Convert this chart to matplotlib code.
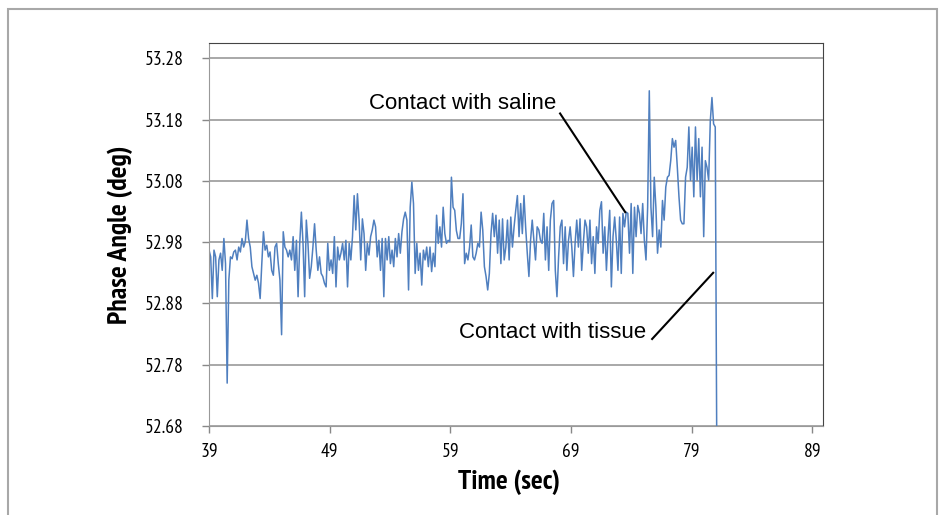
import numpy as np
import matplotlib
matplotlib.use("Agg")
import matplotlib.pyplot as plt
from matplotlib.patches import Rectangle

# phase angle samples (deg), left to right
seg1 = [52.967, 52.956, 52.888, 52.967, 52.956, 52.891, 52.951, 52.962, 52.934, 52.986,
        52.945, 52.750, 52.918, 52.956, 52.953, 52.964, 52.967, 52.951, 52.972, 52.964,
        52.986, 52.972, 52.981, 53.016, 52.986, 52.972, 52.940, 52.929, 52.918, 52.926,
        52.913, 52.888, 52.945, 52.997, 52.967, 52.975, 52.956, 52.964, 52.934, 52.926,
        52.972, 52.978, 52.945, 52.918, 52.829, 52.997, 52.972, 52.967, 52.956]
seg2 = [52.967, 52.951, 52.989, 52.934, 52.983, 52.891, 52.978, 53.029, 52.978, 52.891,
        53.016, 52.978, 52.921, 52.940, 52.972, 53.010, 52.967, 52.934, 52.956, 52.929,
        52.924, 52.913, 52.907, 52.978, 52.934, 52.951, 52.929, 52.989, 52.907, 52.972,
        52.951, 52.962, 52.978, 52.951, 52.983, 52.907, 52.978, 52.951, 52.989, 53.056,
        53.000, 53.059, 53.016, 52.951, 53.018, 52.994, 52.934, 52.978, 52.959, 52.989,
        53.000, 53.016]
seg3 = [53.005, 52.956, 52.983, 52.934, 52.986, 52.891, 52.986, 52.951, 52.989, 52.945,
        52.967, 52.940, 52.986, 52.956, 52.994, 52.962, 52.997, 53.018, 53.029, 53.016,
        52.902, 53.037, 53.078, 53.043, 52.929, 52.978, 52.934, 52.962, 52.910, 52.967,
        52.951, 52.972, 52.940, 52.972, 52.932, 52.962, 52.940, 53.024, 52.978, 53.005,
        52.972, 53.037, 52.994, 52.978, 52.983, 52.981, 53.086, 53.037, 53.032, 52.999,
        52.986]
seg4 = [52.986, 53.010, 53.059, 52.945, 52.962, 52.951, 52.972, 53.008, 52.956, 52.951,
        52.962, 52.978, 52.972, 53.029, 53.000, 52.940, 52.924, 52.902, 52.929, 52.994,
        53.027, 52.989, 53.024, 52.962, 53.016, 52.945, 53.018, 52.951, 52.972, 53.016,
        52.951, 53.021, 52.972, 53.005, 53.032, 53.056, 52.989, 53.043, 52.994, 53.056,
        53.005, 52.962, 52.924, 52.983, 53.016, 52.983, 52.951, 53.005, 53.000, 52.983,
        52.978]
seg5 = [53.027, 52.951, 53.005, 52.934, 53.016, 53.043, 53.048, 52.934, 52.891, 52.956,
        53.005, 53.016, 52.945, 53.005, 52.934, 52.983, 53.005, 52.972, 52.924, 52.978,
        53.016, 52.972, 53.018, 52.934, 52.978, 53.016, 53.005, 52.962, 53.016, 52.945,
        52.989, 52.929, 53.005, 52.978, 53.032, 53.046, 52.962, 53.005, 52.934, 52.989,
        53.032, 52.907, 52.989, 53.021, 52.983, 52.934, 53.021, 52.929, 53.027, 53.005,
        53.029]
seg6 = [53.027, 52.962, 53.043, 52.929, 53.037, 52.989, 53.040, 53.027, 52.994, 53.043,
        52.983, 52.951, 53.037, 53.227, 53.037, 52.989, 53.086, 53.037, 52.962, 53.000,
        52.972, 53.048, 53.016, 53.070, 53.086, 53.089, 53.113, 53.149, 53.135, 53.146,
        53.102, 53.054, 53.016, 53.010, 53.010, 53.086, 53.102, 53.168, 53.081, 53.135,
        53.054, 53.168, 53.081, 53.149, 53.054, 53.135, 52.989, 53.113, 53.102, 53.081,
        53.178, 53.216, 53.173, 53.168, 52.600]

phase = np.array(seg1 + seg2 + seg3 + seg4 + seg5 + seg6)
t_start, t_end = 39.0, 81.1
time = np.linspace(t_start, t_end, len(phase))

x_ticks = [39, 49, 59, 69, 79, 89]
y_ticks = [52.68, 52.78, 52.88, 52.98, 53.08, 53.18, 53.28]

tick_font = ['PT Sans Narrow', 'DejaVu Sans']
label_font = ['PT Sans Narrow', 'DejaVu Sans']
note_font = ['Liberation Sans', 'DejaVu Sans']

fig = plt.figure(figsize=(9.48, 5.15), dpi=100)
# grey frame around the whole figure
fig.patches.append(Rectangle((8 / 948, -0.05), 929 / 948, 1.05 - 9 / 515,
                             transform=fig.transFigure, fill=False,
                             edgecolor='#a8a8a8', linewidth=1.5))

ax = fig.add_axes([0.2205, 0.1728, 0.6477, 0.7437])
ax.plot(time, phase, color='#4f7fbf', linewidth=1.1)

ax.set_xlim(39, 89.9)
ax.set_ylim(52.68, 53.305)
ax.set_xticks(x_ticks)
ax.set_yticks(y_ticks)
ax.set_xticklabels([str(v) for v in x_ticks], family=tick_font, fontsize=14)
ax.set_yticklabels(['%.2f' % v for v in y_ticks], family=tick_font, fontsize=14)
ax.tick_params(axis='x', length=5, pad=7, color='#888888', width=1)
ax.tick_params(axis='y', length=5, pad=13, color='#888888', width=1)
ax.yaxis.grid(True, color='#999999', linewidth=1.2)
ax.set_axisbelow(True)

for side in ['left', 'bottom']:
    ax.spines[side].set_color('#999999')
for side in ['top', 'right']:
    ax.spines[side].set_color('#444444')

ax.set_xlabel('Time (sec)', family=label_font, fontweight='bold', fontsize=20, labelpad=8)
ax.xaxis.set_label_coords(0.488, -0.115)
ax.set_ylabel('Phase Angle (deg)', family=label_font, fontweight='bold', fontsize=20, labelpad=9)

# annotations
ax.text(52.27, 53.206, 'Contact with saline', fontsize=16, va='center', ha='left',
        family=note_font)
ax.plot([68.1, 73.5], [53.190, 53.029], color='black', linewidth=1.5)
ax.text(59.73, 52.832, 'Contact with tissue', fontsize=16, va='center', ha='left',
        family=note_font)
ax.plot([75.73, 80.79], [52.822, 52.930], color='black', linewidth=1.5)

fig.savefig('out.png', dpi=100)
